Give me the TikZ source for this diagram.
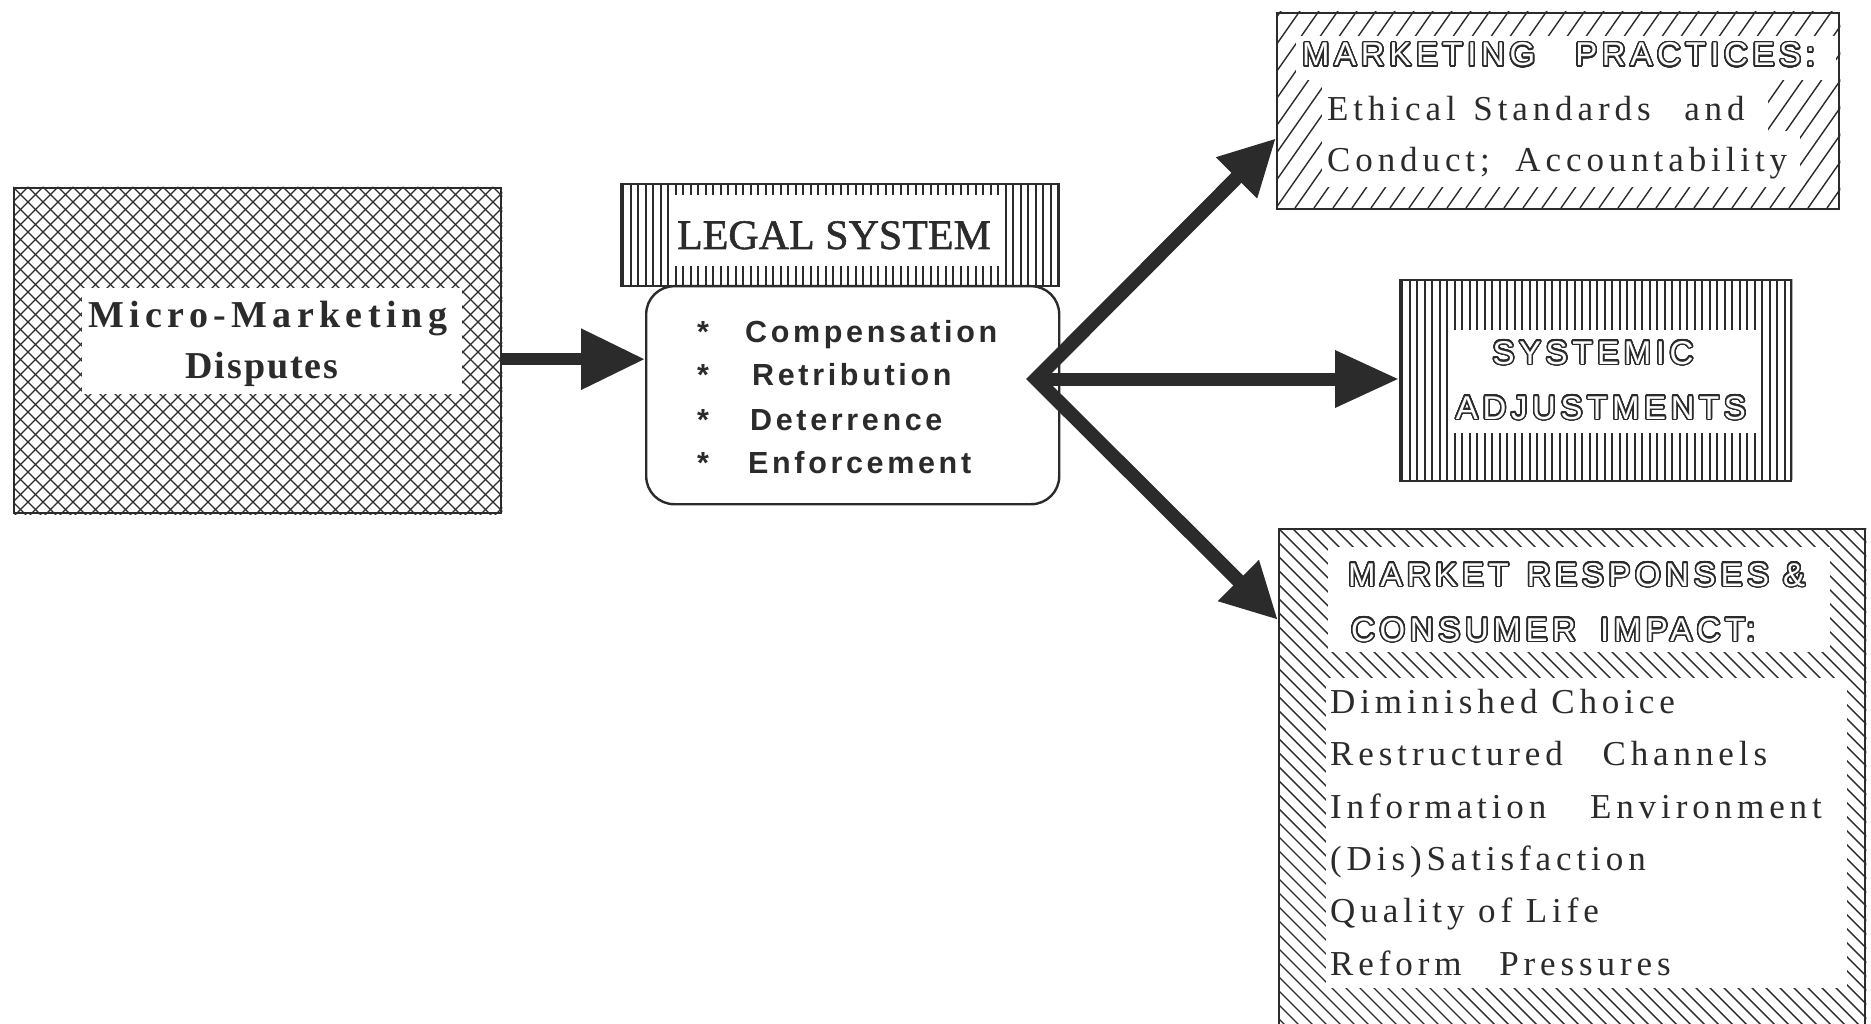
\documentclass[tikz,border=0pt]{standalone}
\usepackage{fontspec}
\usepackage{contour}
\usetikzlibrary{arrows.meta}
\setmainfont{Liberation Serif}
\newfontfamily\plainsans{Liberation Sans}
\definecolor{ink}{HTML}{2B2B2B}
\contourlength{1.5pt}
\contournumber{32}

% type styles
\newcommand\microfont{\fontsize{38}{44}\selectfont\bfseries}
\newcommand\legalfont{\fontsize{42}{48}\selectfont\addfontfeature{FakeBold=1.2}}
\newcommand\lawfont{\plainsans\fontsize{30.5}{36}\selectfont\bfseries\addfontfeature{LetterSpace=12}}
\newcommand\outfont{\plainsans\fontsize{33}{38}\selectfont\addfontfeature{LetterSpace=14}}
\newcommand\listfont{\fontsize{35}{42}\selectfont\addfontfeature{LetterSpace=14}}

\begin{document}
\begin{tikzpicture}[x=1pt,y=-1pt,
  frame/.style={draw=ink, line width=2.4, inner sep=0, anchor=north west},
  hatch/.style={draw=ink, line width=1.4},
  vhatch/.style={draw=ink, line width=2},
  fat/.style={draw=ink, line width=#1, line join=miter},
  txt/.style={text=ink, inner sep=0},
  outl/.style={text=white, inner sep=0},
]
\useasboundingbox (0,0) rectangle (1871,1024);
\fill[white] (0,0) rectangle (1871,1024);

% ---- frames ----
\node[frame, minimum width=487, minimum height=325] (micro) at (13,187) {};
\node[frame, minimum width=438, minimum height=102] (legal) at (620,183) {};
\node[frame, rounded corners=28, minimum width=413, minimum height=218] (law) at (645,285) {};
\node[frame, minimum width=562, minimum height=196] (mp) at (1276,12) {};
\node[frame, minimum width=391, minimum height=201] (sa) at (1399,279) {};
\node[frame, minimum width=586, minimum height=520] (mr) at (1278,528) {};

% ---- fills ----
\begin{scope}
  \clip (micro.north west) rectangle (micro.south east);
  \foreach \k in {-25,...,56} {
    \draw[hatch] ({13+\k*15},187) -- ++(340,340);
    \draw[hatch] ({13+\k*15},187) -- ++(-340,340);
  }
\end{scope}
\fill[white] (82,288) rectangle (462,394);

\begin{scope}
  \clip (legal.north west) rectangle (legal.south east);
  \foreach \k in {0,...,58} \draw[vhatch] ({623+\k*7.5},183) -- ++(0,102);
\end{scope}
\fill[white] (670,195) rectangle (1000,266);

\begin{scope}
  \clip (sa.north west) rectangle (sa.south east);
  \foreach \k in {0,...,52} \draw[vhatch] ({1402+\k*7.5},279) -- ++(0,201);
\end{scope}
\fill[white] (1448,330) rectangle (1760,433);

\begin{scope}
  \clip (mp.north west) rectangle (mp.south east);
  \foreach \k in {-9,...,31} \draw[hatch] ({1276+\k*19},208) -- ++(140,-200);
\end{scope}
\fill[white] (1296,36) rectangle (1836,80);
\fill[white] (1322,80) rectangle (1768,131);
\fill[white] (1322,131) rectangle (1800,187);

\begin{scope}
  \clip (mr.north west) rectangle (mr.south east);
  \foreach \k in {-40,...,42} \draw[hatch] ({1278+\k*14},528) -- ++(560,560);
\end{scope}
\fill[white] (1328,547) rectangle (1830,652);
\fill[white] (1326,678) rectangle (1847,988);

% ---- texts ----
\node[txt, anchor=base] (micro1) at (268,327) {\microfont\addfontfeature{LetterSpace=14}Micro-Marketing};
\node[txt, anchor=base] (micro2) at (262,378) {\microfont\addfontfeature{LetterSpace=5}Disputes};

\node[txt, anchor=base] (legaltitle) at (834,249) {\legalfont LEGAL SYSTEM};

\foreach \n/\y in {1/342,2/385,3/430,4/473}
  \node[txt, anchor=base west] (star\n) at (697,\y) {\lawfont *};
\node[txt, anchor=base west] (goal1) at (745,342) {\lawfont Compensation};
\node[txt, anchor=base west] (goal2) at (752,385) {\lawfont Retribution};
\node[txt, anchor=base west] (goal3) at (750,430) {\lawfont Deterrence};
\node[txt, anchor=base west] (goal4) at (748,473) {\lawfont Enforcement};

\node[outl, anchor=base west] (mphead) at (1302,66) {\outfont\contour{ink}{MARKETING\hspace{40pt}PRACTICES:}};
\node[txt, anchor=base west] (mp1) at (1327,121) {\listfont Ethical\hspace{4pt} Standards\hspace{20pt} and};
\node[txt, anchor=base west] (mp2) at (1327,172) {\listfont Conduct;\hspace{12pt} Accountability};

\node[outl, anchor=base] (sa1) at (1593,364) {\outfont\contour{ink}{SYSTEMIC}};
\node[outl, anchor=base] (sa2) at (1601,419) {\outfont\contour{ink}{ADJUSTMENTS}};

\node[outl, anchor=base west] (mrhead1) at (1348,586) {\outfont\contour{ink}{MARKET\hspace{18pt}RESPONSES\hspace{14pt}\&}};
\node[outl, anchor=base west] (mrhead2) at (1351,641) {\outfont\contour{ink}{CONSUMER\hspace{24pt}IMPACT:}};

\node[txt, anchor=base west] (mr1) at (1330,713) {\listfont Diminished Choice};
\node[txt, anchor=base west] (mr2) at (1330,765) {\listfont Restructured\hspace{26pt} Channels};
\node[txt, anchor=base west] (mr3) at (1330,818) {\listfont Information\hspace{30pt} Environment};
\node[txt, anchor=base west] (mr4) at (1330,870) {\listfont (Dis)Satisfaction};
\node[txt, anchor=base west] (mr5) at (1330,922) {\listfont Quality of Life};
\node[txt, anchor=base west] (mr6) at (1330,975) {\listfont Reform\hspace{24pt} Pressures};

% ---- connectors ----
\coordinate (a1) at ([yshift=-8.5pt]micro.east);
\draw[fat=12.5, -{Triangle[length=64pt,width=58pt]}] (a1) -- (a1 -| law.west);

\coordinate (vtx) at (1036,379);
\coordinate (uptip) at ([yshift=-27pt]mp.west);
\coordinate (lowtip) at ([yshift=-92pt]mr.north west);
\draw[fat=14, {Triangle[length=56pt,width=54pt]}-{Triangle[length=56pt,width=54pt]}]
  (uptip) -- (vtx) -- (lowtip);
\draw[fat=13, -{Triangle[length=64pt,width=54pt]}] (vtx) -- (vtx -| sa.west);
\end{tikzpicture}
\end{document}
